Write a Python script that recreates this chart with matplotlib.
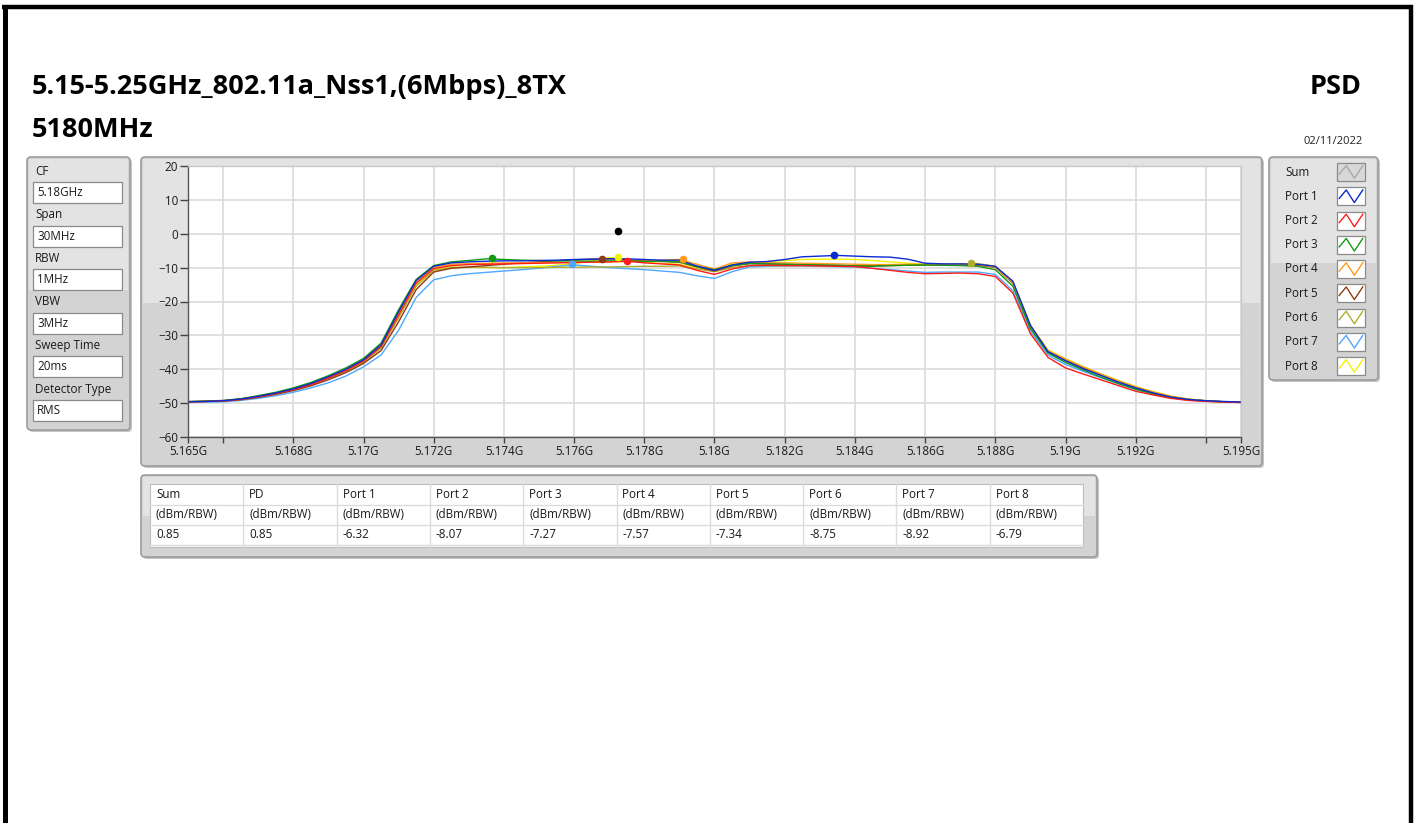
import numpy as np
import matplotlib
matplotlib.use('Agg')
import matplotlib.pyplot as plt
from matplotlib.patches import FancyBboxPatch, Rectangle

plt.rcParams['font.family'] = ['Open Sans', 'DejaVu Sans']

W, H = 1415, 823

# ---- data ----
freq_mhz = np.arange(5165.0, 5195.01, 0.5)   # sample positions, 0.5 MHz apart

# PSD traces in dBm/RBW, one value per 0.5 MHz from 5165 to 5195 MHz
port1 = [-49.6, -49.5, -49.3, -48.8, -48.0, -47.0, -45.8, -44.2, -42.2, -40.0,
         -37.2, -32.8, -23.0, -13.8, -9.6, -8.6, -8.3, -8.1, -8.0, -8.0,
         -7.9, -7.8, -7.6, -7.5, -7.4, -7.4, -7.6, -7.8, -7.8, -9.5,
         -10.8, -9.2, -8.4, -8.2, -7.6, -6.8, -6.6, -6.4, -6.6, -6.8,
         -6.9, -7.5, -8.7, -8.9, -8.9, -9.0, -9.6, -14.0, -27.0, -34.8,
         -37.5, -39.8, -41.8, -43.8, -45.5, -47.0, -48.2, -48.9, -49.3, -49.5,
         -49.7]
port2 = [-49.6, -49.5, -49.3, -48.9, -48.1, -47.2, -46.0, -44.5, -42.6, -40.4,
         -37.6, -33.3, -24.0, -14.6, -10.3, -9.4, -9.1, -9.0, -8.9, -8.8,
         -8.7, -8.6, -8.5, -8.4, -8.3, -8.1, -8.6, -8.9, -9.2, -10.8,
         -12.0, -10.4, -9.4, -9.3, -9.4, -9.4, -9.5, -9.6, -9.7, -10.2,
         -10.8, -11.4, -11.8, -11.7, -11.6, -11.8, -12.6, -17.5, -29.5, -36.5,
         -39.6, -41.4, -43.1, -44.8, -46.5, -47.6, -48.6, -49.2, -49.5, -49.7,
         -49.8]
port3 = [-49.5, -49.4, -49.2, -48.7, -47.8, -46.8, -45.5, -43.9, -41.9, -39.6,
         -36.8, -32.3, -22.4, -13.5, -9.4, -8.3, -7.9, -7.4, -7.6, -7.8,
         -7.9, -8.0, -8.0, -8.1, -8.0, -8.1, -8.2, -8.1, -8.3, -9.7,
         -10.6, -9.4, -8.8, -8.9, -9.0, -9.1, -9.2, -9.3, -9.5, -9.6,
         -9.4, -9.3, -9.2, -9.3, -9.4, -9.6, -10.6, -15.5, -28.0, -35.2,
         -38.0, -40.2, -42.3, -44.2, -45.9, -47.3, -48.4, -49.1, -49.4, -49.6,
         -49.8]
port4 = [-49.6, -49.5, -49.3, -48.8, -48.0, -47.0, -45.8, -44.3, -42.4, -40.2,
         -37.4, -33.0, -23.4, -14.2, -9.9, -9.0, -8.8, -8.7, -8.6, -8.6,
         -8.5, -8.5, -8.4, -8.3, -8.3, -8.2, -8.1, -7.8, -7.6, -9.0,
         -10.4, -8.6, -8.3, -8.5, -8.6, -8.7, -8.8, -8.9, -9.0, -9.1,
         -9.1, -9.0, -9.0, -9.0, -9.0, -9.1, -9.8, -14.4, -27.2, -34.5,
         -37.0, -39.3, -41.4, -43.4, -45.2, -46.7, -48.0, -48.8, -49.3, -49.6,
         -49.7]
port5 = [-49.6, -49.5, -49.4, -49.0, -48.3, -47.4, -46.3, -44.9, -43.1, -41.0,
         -38.3, -34.5, -26.0, -16.5, -11.3, -10.2, -9.8, -9.4, -9.0, -8.6,
         -8.3, -8.0, -7.7, -7.5, -7.4, -7.7, -8.0, -8.2, -8.4, -9.8,
         -11.0, -9.5, -8.8, -8.9, -9.0, -9.2, -9.3, -9.4, -9.5, -9.5,
         -9.4, -9.3, -9.2, -9.2, -9.2, -9.3, -9.9, -14.6, -27.4, -34.8,
         -37.3, -39.5, -41.6, -43.6, -45.4, -46.9, -48.1, -48.9, -49.3, -49.6,
         -49.7]
port6 = [-49.6, -49.5, -49.3, -48.9, -48.2, -47.2, -46.0, -44.6, -42.7, -40.6,
         -37.9, -33.8, -24.8, -15.5, -10.8, -10.0, -9.9, -9.9, -10.0, -10.0,
         -10.0, -9.9, -9.9, -9.8, -9.8, -9.7, -9.6, -9.6, -9.5, -10.4,
         -11.2, -10.0, -9.4, -9.4, -9.4, -9.4, -9.4, -9.4, -9.5, -9.4,
         -9.3, -9.2, -9.1, -9.0, -8.9, -8.8, -9.6, -14.2, -27.2, -34.6,
         -37.2, -39.4, -41.5, -43.5, -45.3, -46.8, -48.1, -48.9, -49.3, -49.6,
         -49.7]
port7 = [-49.8, -49.7, -49.6, -49.2, -48.6, -47.8, -46.8, -45.5, -44.0, -42.0,
         -39.3, -35.8, -28.5, -18.8, -13.6, -12.4, -11.8, -11.4, -11.0, -10.6,
         -10.2, -9.6, -9.2, -9.6, -10.0, -10.3, -10.6, -11.0, -11.4, -12.4,
         -13.2, -11.2, -9.8, -9.6, -9.5, -9.5, -9.6, -9.7, -9.8, -10.2,
         -10.6, -11.0, -11.4, -11.3, -11.3, -11.3, -12.0, -16.8, -28.8, -35.8,
         -38.6, -40.6, -42.5, -44.3, -46.0, -47.3, -48.3, -49.0, -49.4, -49.6,
         -49.8]
port8 = [-49.6, -49.5, -49.3, -48.9, -48.1, -47.1, -45.9, -44.4, -42.5, -40.3,
         -37.6, -33.4, -24.3, -15.0, -10.5, -9.8, -9.9, -10.0, -10.0, -9.8,
         -9.6, -9.3, -8.8, -8.0, -7.0, -7.6, -8.4, -8.8, -9.0, -10.2,
         -11.0, -9.0, -8.6, -8.2, -7.9, -7.6, -7.5, -7.5, -7.6, -7.9,
         -8.3, -8.7, -9.0, -9.1, -9.1, -9.2, -9.8, -14.4, -27.0, -34.3,
         -36.9, -39.2, -41.3, -43.3, -45.1, -46.6, -47.9, -48.8, -49.3, -49.6,
         -49.7]
port_traces = [port1, port2, port3, port4, port5, port6, port7, port8]
port_names = ['Port 1', 'Port 2', 'Port 3', 'Port 4', 'Port 5', 'Port 6', 'Port 7', 'Port 8']
port_colors = ['#0a2ad2', '#ff1c1c', '#129a12', '#ff9a1c', '#8e3b12', '#aeae2e', '#4ea8ff', '#f2f200']

# peak markers (frequency, level from the table)
peak_freq_mhz = [5183.4, 5177.5, 5173.65, 5179.1, 5176.8, 5187.3, 5175.95, 5177.25]
peak_dbm = [-6.32, -8.07, -7.27, -7.57, -7.34, -8.75, -8.92, -6.79]
sum_peak_freq_mhz = 5177.25
sum_peak_dbm = 0.85

# result table
table_headers = ['Sum', 'PD'] + port_names
table_units = ['(dBm/RBW)'] * 10
table_values = ['0.85', '0.85', '-6.32', '-8.07', '-7.27', '-7.57', '-7.34', '-8.75', '-8.92', '-6.79']

# analyser settings
settings_labels = ['CF', 'Span', 'RBW', 'VBW', 'Sweep Time', 'Detector Type']
settings_values = ['5.18GHz', '30MHz', '1MHz', '3MHz', '20ms', 'RMS']

x_ticks_ghz = [5.165, 5.166, 5.168, 5.170, 5.172, 5.174, 5.176, 5.178, 5.180,
               5.182, 5.184, 5.186, 5.188, 5.190, 5.192, 5.194, 5.195]
x_tick_labels = ['5.165G', '', '5.168G', '5.17G', '5.172G', '5.174G', '5.176G', '5.178G', '5.18G',
                 '5.182G', '5.184G', '5.186G', '5.188G', '5.19G', '5.192G', '', '5.195G']
y_ticks = [-60, -50, -40, -30, -20, -10, 0, 10, 20]

TXT = '#1a1a1a'
FS = 8.4


def panel(bg, x0, y0, x1, y1, split):
    """LabVIEW style grey panel: shadow, two tone fill, rounded border."""
    bg.add_patch(FancyBboxPatch((x0 + 2, y0 + 2), x1 - x0, y1 - y0,
                                boxstyle='round,pad=0,rounding_size=4',
                                fc='#c4c4c4', ec='none', zorder=1))
    bg.add_patch(FancyBboxPatch((x0, y0), x1 - x0, y1 - y0,
                                boxstyle='round,pad=0,rounding_size=4',
                                fc='#d3d3d3', ec='none', zorder=2))
    bg.add_patch(Rectangle((x0 + 2, y0 + 2), x1 - x0 - 4, split - y0 - 2,
                           fc='#e3e3e3', ec='none', zorder=2))
    bg.add_patch(FancyBboxPatch((x0, y0), x1 - x0, y1 - y0,
                                boxstyle='round,pad=0,rounding_size=4',
                                fc='none', ec='#9c9c9c', lw=1.2, zorder=3))


fig = plt.figure(figsize=(W / 100, H / 100), dpi=100)
fig.patch.set_facecolor('white')

bg = fig.add_axes([0, 0, 1, 1], zorder=0)
bg.set_xlim(0, W)
bg.set_ylim(H, 0)
bg.axis('off')

# black frame of the report page
bg.plot([4.5, 4.5], [5, H], color='black', lw=3.6, solid_capstyle='butt')
bg.plot([2, 1413], [7, 7], color='black', lw=3.2, solid_capstyle='butt')
bg.plot([1411, 1411], [5, H], color='black', lw=3.2, solid_capstyle='butt')

# headings
bg.text(32, 87, '5.15-5.25GHz_802.11a_Nss1,(6Mbps)_8TX', fontsize=19.5, fontweight='bold',
        ha='left', va='center', color='black')
bg.text(32, 130, '5180MHz', fontsize=19.5, fontweight='bold', ha='left', va='center', color='black')
bg.text(1362, 87, 'PSD', fontsize=19.5, fontweight='bold', ha='right', va='center', color='black')
bg.text(1363, 141, '02/11/2022', fontsize=8, ha='right', va='center', color='#222222')

# settings panel
panel(bg, 27, 157, 130, 430, 290)
for i, (lab, val) in enumerate(zip(settings_labels, settings_values)):
    yl = 171 + i * 43.6
    bg.text(35, yl, lab, fontsize=FS, ha='left', va='center', color=TXT, zorder=5)
    bg.add_patch(Rectangle((33, yl + 11), 89, 21, fc='white', ec='#8a8a8a', lw=0.9, zorder=4))
    bg.text(37, yl + 21.5, val, fontsize=FS, ha='left', va='center', color=TXT, zorder=5)

# graph panel
panel(bg, 141, 157, 1262, 466, 303)

# legend panel
panel(bg, 1269, 157, 1378, 380, 263)
legend_names = ['Sum'] + port_names
legend_colors = ['#a8a8a8'] + port_colors
zig_x = np.array([0.08, 0.33, 0.62, 0.92])
zig_y = np.array([0.62, 0.15, 0.85, 0.15])
for i, (name, col) in enumerate(zip(legend_names, legend_colors)):
    yc = 172 + i * 24.25
    bg.text(1285, yc, name, fontsize=FS, ha='left', va='center', color=TXT, zorder=5)
    face = '#d8d8d8' if i == 0 else 'white'
    bg.add_patch(Rectangle((1337, yc - 9), 28, 18, fc=face, ec='#8a8a8a', lw=0.9, zorder=4))
    bg.plot(1337 + zig_x * 28, yc - 9 + zig_y * 18, color=col, lw=1.0, zorder=5)

# table panel
panel(bg, 141, 475, 1097, 557, 516)
tx0, tx1 = 150, 1083
row_edges = [484, 505, 525, 545, 547]
bg.add_patch(Rectangle((tx0, 484), tx1 - tx0, 63, fc='white', ec='#bdbdbd', lw=0.8, zorder=4))
col_w = (tx1 - tx0) / len(table_headers)
for r in row_edges[1:-1]:
    bg.plot([tx0, tx1], [r, r], color='#dcdcdc', lw=1.0, zorder=5)
for c in range(1, len(table_headers)):
    bg.plot([tx0 + c * col_w] * 2, [484, 547], color='#dcdcdc', lw=1.0, zorder=5)
for c, (hd, un, va) in enumerate(zip(table_headers, table_units, table_values)):
    xl = tx0 + c * col_w + 6
    for j, s in enumerate([hd, un, va]):
        bg.text(xl, (row_edges[j] + row_edges[j + 1]) / 2, s, fontsize=FS,
                ha='left', va='center', color=TXT, zorder=6)

# ---- spectrum plot ----
ax = fig.add_axes([188 / W, 1 - 437 / H, (1241 - 188) / W, (437 - 166) / H], zorder=2)
ax.set_facecolor('white')
freq_ghz = freq_mhz / 1000.0
for name, trace, col in reversed(list(zip(port_names, port_traces, port_colors))):
    ax.plot(freq_ghz, trace, color=col, lw=1.0, label=name)
for f, p, col in reversed(list(zip(peak_freq_mhz, peak_dbm, port_colors))):
    ax.plot(f / 1000.0, p, 'o', color=col, ms=4.5, zorder=4)
ax.plot(sum_peak_freq_mhz / 1000.0, sum_peak_dbm, 'o', color='black', ms=4.5, zorder=4)

ax.set_xlim(5.165, 5.195)
ax.set_ylim(-60, 20)
ax.set_xticks(x_ticks_ghz)
ax.set_xticklabels(x_tick_labels)
ax.set_yticks(y_ticks)
ax.grid(True, color='#dadada', lw=1.2)
ax.set_axisbelow(True)
ax.tick_params(axis='both', direction='out', colors='#444444', labelcolor=TXT, labelsize=FS, width=1)
ax.tick_params(axis='y', length=6, pad=1)
ax.tick_params(axis='x', length=4.5, pad=1.5)
for side in ['left', 'bottom']:
    ax.spines[side].set_color('#555555')
    ax.spines[side].set_linewidth(1.0)
for side in ['top', 'right']:
    ax.spines[side].set_color('#c8c8c8')
    ax.spines[side].set_linewidth(1.0)

fig.savefig('out.png', dpi=100, facecolor='white')
